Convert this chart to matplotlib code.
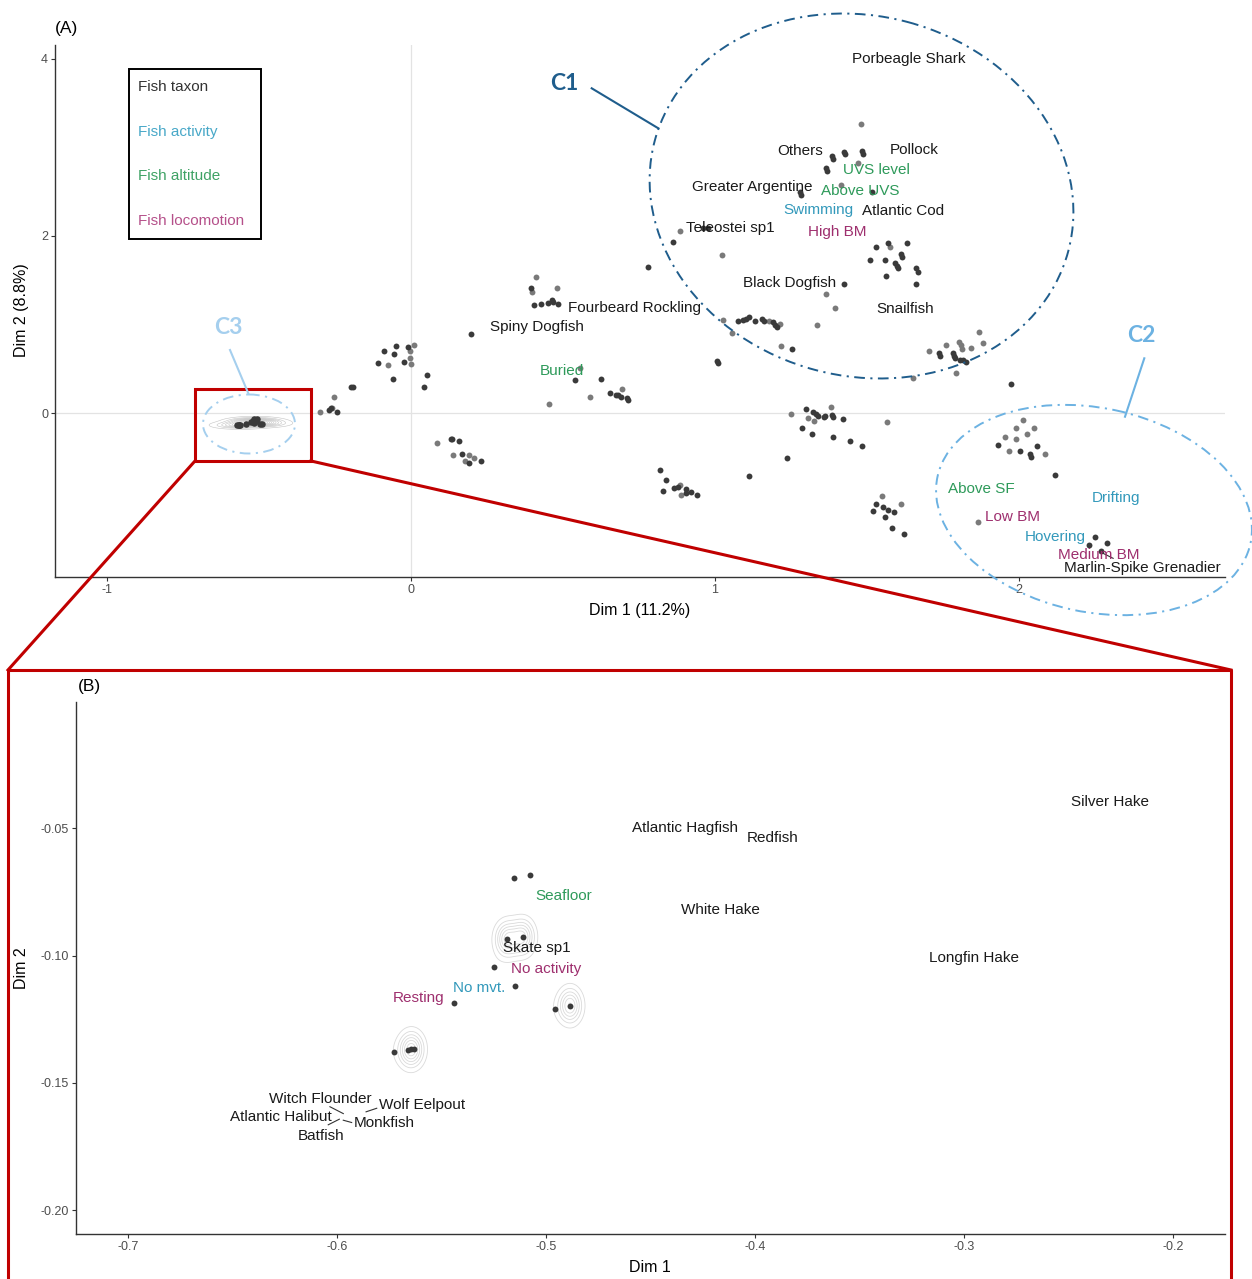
import numpy as np
import matplotlib
matplotlib.use("Agg")
import matplotlib.pyplot as plt
from matplotlib.patches import Ellipse, Rectangle

plt.rcParams['font.family'] = ['Liberation Sans', 'DejaVu Sans']
plt.rcParams['axes.unicode_minus'] = False

W, H = 1252, 1279

# ---------------- Panel A data (individual observations, Dim1 / Dim2) ----------------
dark_x = [0.196, -0.050, -0.090, -0.009, -0.056, -0.110, -0.022, 0.053, -0.058, 0.042,
          -0.197, -0.192, -0.263, -0.270, -0.242, 0.132, 0.136, 0.159, 0.168, 0.191,
          0.230, 0.394, 0.406, 0.429, 0.452, 0.465, 0.468, 0.485, 0.539, 0.625,
          0.654, 0.674, 0.682, 0.690, 0.710, 0.714, 0.818, 0.838, 0.828, 0.866,
          0.877, 0.905, 0.904, 0.921, 0.942, 1.113, 1.236, 1.006, 1.009, 1.075,
          1.093, 1.102, 1.112, 1.131, 1.156, 1.161, 1.190, 1.196, 1.203, 1.252,
          1.301, 1.321, 1.331, 1.340, 1.360, 1.362, 1.386, 1.389, 1.422, 1.285,
          1.320, 1.389, 1.444, 1.483, 0.863, 0.961, 0.977, 0.779, 1.384, 1.389,
          1.424, 1.428, 1.484, 1.487, 1.367, 1.369, 1.280, 1.282, 1.517, 1.530,
          1.571, 1.631, 1.510, 1.558, 1.612, 1.617, 1.592, 1.598, 1.603, 1.562,
          1.663, 1.667, 1.660, 1.425, 1.737, 1.741, 1.784, 1.787, 1.790, 1.807,
          1.817, 1.826, 1.974, 1.931, 2.002, 2.036, 2.039, 2.059, 2.119, 2.251,
          2.289, 2.229, 2.270, 1.530, 1.552, 1.568, 1.590, 1.520, 1.559, 1.582,
          1.622]
dark_y = [0.889, 0.760, 0.704, 0.742, 0.663, 0.568, 0.580, 0.426, 0.381, 0.294,
          0.297, 0.297, 0.060, 0.037, 0.011, -0.290, -0.294, -0.320, -0.458, -0.562,
          -0.542, 1.407, 1.220, 1.235, 1.246, 1.277, 1.258, 1.232, 0.373, 0.384,
          0.229, 0.207, 0.200, 0.177, 0.166, 0.144, -0.647, -0.760, -0.878, -0.847,
          -0.833, -0.862, -0.901, -0.896, -0.927, -0.715, -0.505, 0.591, 0.565, 1.040,
          1.047, 1.059, 1.088, 1.036, 1.062, 1.036, 1.025, 0.994, 0.975, 0.720,
          0.040, 0.008, -0.015, -0.031, -0.049, -0.034, -0.019, -0.042, -0.064, -0.169,
          -0.234, -0.271, -0.316, -0.376, 1.929, 2.090, 2.090, 1.653, 2.904, 2.870,
          2.953, 2.923, 2.957, 2.930, 2.765, 2.731, 2.501, 2.467, 2.501, 1.872,
          1.924, 1.924, 1.729, 1.732, 1.793, 1.763, 1.698, 1.664, 1.638, 1.551,
          1.638, 1.597, 1.461, 1.461, 0.675, 0.644, 0.675, 0.644, 0.625, 0.599,
          0.599, 0.573, 0.328, -0.365, -0.429, -0.463, -0.494, -0.369, -0.704, -1.401,
          -1.466, -1.495, -1.556, -1.032, -1.062, -1.093, -1.119, -1.111, -1.178, -1.299,
          -1.364]
light_x = [0.010, -0.003, -0.003, -0.077, 0.000, -0.252, -0.261, -0.298, 0.085, 0.138,
           0.192, 0.209, 0.177, 0.398, 0.480, 0.557, 0.454, 0.589, 0.693, 0.884,
           0.887, 1.026, 1.055, 1.179, 1.214, 1.216, 1.337, 1.250, 1.381, 1.307,
           1.326, 1.567, 0.885, 1.024, 0.413, 1.479, 1.471, 1.415, 1.577, 1.367,
           1.395, 1.703, 1.759, 1.804, 1.809, 1.813, 1.843, 1.869, 1.883, 1.792,
           1.652, 2.012, 1.990, 2.050, 1.953, 1.989, 2.027, 1.969, 2.085, 1.866,
           1.550, 1.612]
light_y = [0.765, 0.704, 0.625, 0.539, 0.554, 0.181, 0.053, 0.011, -0.336, -0.475,
           -0.475, -0.514, -0.542, 1.367, 1.416, 0.508, 0.098, 0.184, 0.271, -0.810,
           -0.927, 1.047, 0.904, 1.040, 1.006, 0.757, 0.994, -0.008, 0.068, -0.051,
           -0.087, -0.102, 2.060, 1.785, 1.540, 3.262, 2.821, 2.576, 1.872, 1.345,
           1.183, 0.704, 0.765, 0.802, 0.765, 0.727, 0.738, 0.919, 0.794, 0.449,
           0.392, -0.079, -0.173, -0.169, -0.268, -0.294, -0.237, -0.429, -0.463, -1.232,
           -0.934, -1.025]

# C3 cluster (zoomed in panel B)
c3_x = [-0.5152, -0.5078, -0.5187, -0.5111, -0.5250, -0.5150, -0.5439, -0.4958, -0.4885,
        -0.5729, -0.5659, -0.5646, -0.5630]
c3_y = [-0.0695, -0.0683, -0.0936, -0.0927, -0.1046, -0.1120, -0.1187, -0.1210, -0.1197,
        -0.1380, -0.1373, -0.1368, -0.1368]
c3_n = [1, 1, 20, 20, 1, 1, 1, 1, 20, 1, 8, 8, 8]

# Category labels, panel A
labA_text = ["Porbeagle Shark", "Others", "Pollock", "UVS level", "Greater Argentine", "Above UVS",
             "Swimming", "Atlantic Cod", "Teleostei sp1", "High BM", "Black Dogfish",
             "Fourbeard Rockling", "Snailfish", "Spiny Dogfish", "Buried", "Above SF", "Drifting",
             "Low BM", "Hovering", "Medium BM", "Marlin-Spike Grenadier"]
labA_x = [1.638, 1.280, 1.655, 1.530, 1.122, 1.477, 1.339, 1.618, 1.049, 1.401, 1.247,
          0.737, 1.625, 0.414, 0.497, 1.875, 2.319, 1.980, 2.118, 2.263, 2.405]
labA_y = [4.000, 2.960, 2.972, 2.746, 2.554, 2.508, 2.294, 2.282, 2.090, 2.045, 1.469,
          1.186, 1.175, 0.972, 0.475, -0.859, -0.960, -1.175, -1.401, -1.605, -1.751]
labA_type = ["taxon", "taxon", "taxon", "altitude", "taxon", "altitude", "activity", "taxon",
             "taxon", "locomotion", "taxon", "taxon", "taxon", "taxon", "altitude", "altitude",
             "activity", "locomotion", "activity", "locomotion", "taxon"]

# Category labels, panel B
labB_text = ["Silver Hake", "Atlantic Hagfish", "Redfish", "Seafloor", "White Hake", "Skate sp1",
             "No activity", "Longfin Hake", "No mvt.", "Resting", "Witch Flounder", "Wolf Eelpout",
             "Atlantic Halibut", "Monkfish", "Batfish"]
labB_x = [-0.2301, -0.4335, -0.3914, -0.4914, -0.4163, -0.5043, -0.5000, -0.2952, -0.5321,
          -0.5608, -0.6081, -0.5593, -0.6268, -0.5775, -0.6077]
labB_y = [-0.0398, -0.0500, -0.0539, -0.0768, -0.0823, -0.0972, -0.1051, -0.1008, -0.1126,
          -0.1165, -0.1563, -0.1587, -0.1634, -0.1657, -0.1709]
labB_type = ["taxon", "taxon", "taxon", "altitude", "taxon", "taxon", "locomotion", "taxon",
             "activity", "locomotion", "taxon", "taxon", "taxon", "taxon", "taxon"]

legend_labels = ["Fish taxon", "Fish activity", "Fish altitude", "Fish locomotion"]
type_colors = {"taxon": "#1a1a1a", "activity": "#3399bb", "altitude": "#2e9a5a", "locomotion": "#9e2f6e"}
legend_colors = ["#333333", "#48a8c8", "#3fa265", "#b5508a"]

# zoom window shown in panel B (in panel-A coordinates)
zoom_x = [-0.7105, -0.329]
zoom_y = [-0.542, 0.271]

# label leader segments
segA = [((2.266, -1.567), (2.310, -1.642))]
segB = [((-0.6034, -0.1594), (-0.5970, -0.1621)),
        ((-0.5861, -0.1614), (-0.5810, -0.1600)),
        ((-0.6042, -0.1665), (-0.5989, -0.1643)),
        ((-0.5970, -0.1647), (-0.5930, -0.1656))]

DARK, LIGHT = '#3a3a3a', '#7a7a7a'
RED = '#c00000'

fig = plt.figure(figsize=(W / 100, H / 100), dpi=100)
axA = fig.add_axes([55 / W, 1 - 577 / H, 1170 / W, 532 / H])
axB = fig.add_axes([76 / W, 1 - 1234 / H, 1149 / W, 532 / H])


def style(ax):
    for s in ['top', 'right']:
        ax.spines[s].set_visible(False)
    for s in ['left', 'bottom']:
        ax.spines[s].set_color('#333333')
        ax.spines[s].set_linewidth(1.0)
    ax.tick_params(length=3, width=0.8, color='#333333', labelsize=9, labelcolor='#4d4d4d', pad=2)


def kde(xs, ys, ws, bx, by, gx, gy):
    X, Y = np.meshgrid(gx, gy)
    Z = np.zeros_like(X)
    for xi, yi, wi in zip(xs, ys, ws):
        Z += wi * np.exp(-0.5 * ((X - xi) / bx) ** 2 - 0.5 * ((Y - yi) / by) ** 2)
    return X, Y, Z


# ---------------- Panel A ----------------
style(axA)
axA.set_xlim(-1.171, 2.678)
axA.set_ylim(-1.853, 4.158)
axA.set_xticks([-1, 0, 1, 2])
axA.set_yticks([0, 2, 4])
axA.axhline(0, color='#e3e3e3', lw=0.9, zorder=0)
axA.axvline(0, color='#e3e3e3', lw=0.9, zorder=0)

X, Y, Z = kde(c3_x, c3_y, c3_n, 0.045, 0.022, np.linspace(-0.8, -0.25, 300), np.linspace(-0.35, 0.15, 300))
axA.contour(X, Y, Z, levels=np.linspace(0.04, 0.96, 12) * Z.max(), colors='#c4c4c4', linewidths=0.4, zorder=1)

axA.scatter(light_x, light_y, s=18, color=LIGHT, lw=0, zorder=2)
axA.scatter(dark_x, dark_y, s=18, color=DARK, lw=0, zorder=3)
axA.scatter(c3_x, c3_y, s=22, color=DARK, lw=0, zorder=3)

for t, x, y, k in zip(labA_text, labA_x, labA_y, labA_type):
    axA.text(x, y, t, color=type_colors[k], fontsize=11, ha='center', va='center', zorder=6)
for (p, q) in segA:
    axA.plot([p[0], q[0]], [p[1], q[1]], color='#333333', lw=0.8, zorder=5)

# legend box
axA.add_patch(Rectangle((0.0632, 0.6353), 0.1129, 0.3196, transform=axA.transAxes,
                        fill=False, ec='black', lw=1.4, zorder=6))
for i, (t, c) in enumerate(zip(legend_labels, legend_colors)):
    axA.text(0.0709, 0.921 - i * 0.0839, t, transform=axA.transAxes, color=c, fontsize=11,
             ha='left', va='center', zorder=6)

# zoom box
axA.add_patch(Rectangle((zoom_x[0], zoom_y[0]), zoom_x[1] - zoom_x[0], zoom_y[1] - zoom_y[0],
                        fill=False, ec=RED, lw=2.2, clip_on=False, zorder=7))

# ---------------- Panel B ----------------
style(axB)
axB.set_xlim(-0.7249, -0.1751)
axB.set_ylim(-0.2094, -0.0004)
axB.set_xticks([-0.7, -0.6, -0.5, -0.4, -0.3, -0.2])
axB.set_xticklabels(['-0.7', '-0.6', '-0.5', '-0.4', '-0.3', '-0.2'])
axB.set_yticks([-0.05, -0.10, -0.15, -0.20])
axB.set_yticklabels(['-0.05', '-0.10', '-0.15', '-0.20'])

X, Y, Z = kde(c3_x, c3_y, c3_n, 0.0036, 0.0044, np.linspace(-0.62, -0.44, 400), np.linspace(-0.17, -0.06, 400))
axB.contour(X, Y, Z, levels=np.linspace(0.12, 0.85, 6) * Z.max(), colors='#dadada', linewidths=0.6, zorder=1)
axB.scatter(c3_x, c3_y, s=18, color=DARK, lw=0, zorder=3)
for t, x, y, k in zip(labB_text, labB_x, labB_y, labB_type):
    axB.text(x, y, t, color=type_colors[k], fontsize=11, ha='center', va='center', zorder=6)
for (p, q) in segB:
    axB.plot([p[0], q[0]], [p[1], q[1]], color='#333333', lw=0.8, zorder=5)

# ---------------- titles ----------------
def px(x, y):
    return x / W, 1 - y / H

fig.text(*px(67, 28), '(A)', fontsize=12.5, ha='center', va='center')
fig.text(*px(89, 686), '(B)', fontsize=12.5, ha='center', va='center')
fig.text(*px(640, 611), 'Dim 1 (11.2%)', fontsize=11.5, ha='center', va='center')
fig.text(*px(22, 310), 'Dim 2 (8.8%)', fontsize=11.5, ha='center', va='center', rotation=90)
fig.text(*px(650, 1268), 'Dim 1', fontsize=11.5, ha='center', va='center')
fig.text(*px(22, 968), 'Dim 2', fontsize=11.5, ha='center', va='center', rotation=90)

# ---------------- overlay (cluster annotations, zoom frame) ----------------
ov = fig.add_axes([0, 0, 1, 1], zorder=10)
ov.set_xlim(0, W)
ov.set_ylim(H, 0)
ov.axis('off')
ov.patch.set_alpha(0)

C1c, C2c, C3c = '#1f5d8c', '#6cb2e2', '#a5cfee'
dd = (0, (5.5, 2.8, 1.1, 2.8))
ov.add_patch(Ellipse((861.5, 196), 428, 360, angle=15, fill=False, ec=C1c, lw=1.4, ls=dd))
ov.add_patch(Ellipse((1094, 510), 320, 204, angle=12, fill=False, ec=C2c, lw=1.4, ls=dd))
ov.add_patch(Ellipse((249, 424), 92, 59, fill=False, ec=C3c, lw=1.4, ls=dd))
ov.plot([591.7, 658.3], [88.3, 128.3], color=C1c, lw=1.5)
ov.plot([1144.3, 1125], [358.3, 416.7], color=C2c, lw=1.5)
ov.plot([230, 248.3], [350, 393.3], color=C3c, lw=1.5)
ov.text(564, 83, 'C1', color=C1c, fontsize=16.5, fontweight='bold', family='Lato', ha='center', va='center')
ov.text(1141, 335, 'C2', color=C2c, fontsize=16.5, fontweight='bold', family='Lato', ha='center', va='center')
ov.text(228, 327, 'C3', color=C3c, fontsize=16.5, fontweight='bold', family='Lato', ha='center', va='center')

# big frame around panel B
ov.plot([8, 8, 1231, 1231], [1300, 670, 670, 1300], color=RED, lw=2.2, clip_on=False)

fig.canvas.draw()


def to_px(ax, x, y):
    dx, dy = ax.transData.transform((x, y))
    return dx, H - dy

bl = to_px(axA, zoom_x[0], zoom_y[0])
br = to_px(axA, zoom_x[1], zoom_y[0])
ov.plot([bl[0], 8], [bl[1], 670], color=RED, lw=2.2)
ov.plot([br[0], 1231], [br[1], 670], color=RED, lw=2.2)

fig.savefig('out.png', dpi=100)
